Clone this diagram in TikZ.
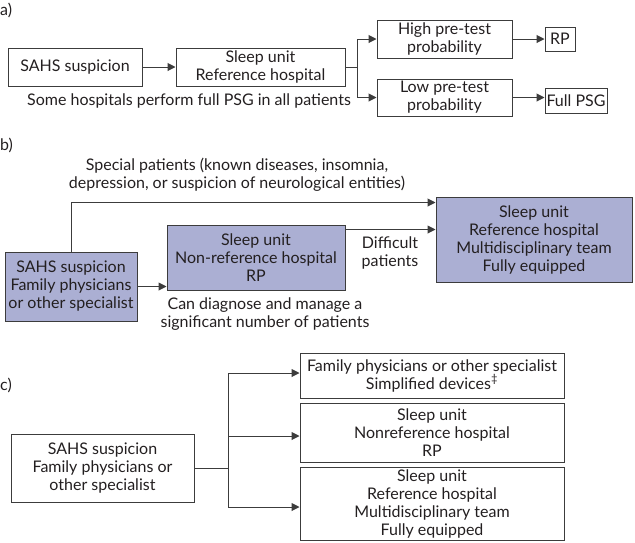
\documentclass[tikz,border=0pt]{standalone}
\usepackage{fontspec}
\setmainfont{Lato}
\usetikzlibrary{arrows.meta}
\definecolor{lav}{RGB}{171,175,211}
\definecolor{ln}{RGB}{60,60,60}
\definecolor{tx}{RGB}{35,31,32}
\begin{document}
\begin{tikzpicture}[x=1pt,y=-1pt,
  every node/.style={text=tx, font=\fontsize{16}{18}\selectfont, align=center, inner sep=0pt},
  box/.style={draw=ln, line width=1pt},
  fbox/.style={box, fill=lav},
  arr/.style={draw=ln, line width=1pt, -{Triangle[length=8pt,width=8pt]}},
  ln/.style={draw=ln, line width=1pt}]
\useasboundingbox (0,0) rectangle (635,542);
% a)
\node[anchor=west] (la) at (0,10) {a)};
\node[box, minimum width=134pt, minimum height=38pt] (a1) at (75,67) {SAHS suspicion};
\node[box, minimum width=169pt, minimum height=38pt] (a2) at (260.5,67) {Sleep unit\\Reference hospital};
\node[box, minimum width=135pt, minimum height=38pt] (a3) at (444.5,39) {High pre-test\\probability};
\node[box, minimum width=135pt, minimum height=37pt] (a4) at (444.5,97.5) {Low pre-test\\probability};
\node[box, minimum width=30pt, minimum height=24pt] (a5) at (560,39) {RP};
\node[box, minimum width=62pt, minimum height=25pt] (a6) at (576,100.5) {Full PSG};
\node (at) at (189,101) {Some hospitals perform full PSG in all patients};
\draw[arr] (a1) -- (a2);
\coordinate (ab) at (357,67);
\draw[ln] (a2.east) -- (ab);
\draw[arr] (ab) |- (a3.west);
\draw[arr] (ab) |- (a4.west);
\draw[arr] (a3) -- (a5);
\draw[arr] (a4.east) -- (a4.east -| a6.west);
% b)
\node[anchor=west] (lb) at (0,145) {b)};
\node[fbox, minimum width=132pt, minimum height=69pt] (b1) at (71,286.5) {SAHS suspicion\\Family physicians\\or other specialist};
\node[fbox, minimum width=178pt, minimum height=65pt] (b2) at (256,257.5) {Sleep unit\\Non-reference hospital\\RP};
\node[fbox, minimum width=196pt, minimum height=85pt] (b3) at (534,239.5) {Sleep unit\\Reference hospital\\Multidisciplinary team\\Fully equipped};
\node (bt1) at (237,175) {Special patients (known diseases, insomnia,\\depression, or suspicion of neurological entities)};
\node (bt2) at (390,252.5) {Difficult\\patients};
\node (bt3) at (265,314) {Can diagnose and manage a\\significant number of patients};
\draw[arr] (b1.east) -- (b1.east -| b2.west);
\draw[arr] ([yshift=-5pt]b2.north east) -- ([yshift=-5pt]b2.north east -| b3.west);
\draw[arr] (b1.north) |- ([yshift=-6pt]b3.north west);
% c)
\node[anchor=west] (lc) at (0,385) {c)};
\node[box, minimum width=183pt, minimum height=68pt] (c1) at (102.5,468) {SAHS suspicion\\Family physicians or\\other specialist};
\node[box, minimum width=264pt, minimum height=45pt] (c2) at (432,375.5) {Family physicians or other specialist\\Simplified devices\textsuperscript{\char"2021}};
\node[box, minimum width=264pt, minimum height=59pt] (c3) at (432,432.5) {Sleep unit\\Nonreference hospital\\RP};
\node[box, minimum width=264pt, minimum height=73pt] (c4) at (432,503.5) {Sleep unit\\Reference hospital\\Multidisciplinary team\\Fully equipped};
\coordinate (cb) at (228,468);
\draw[ln] (c1.east) -- (cb);
\draw[ln] (cb |- 0,373) -- (cb |- 0,507);
\draw[arr] (cb |- 0,373) -- (c2.west |- 0,373);
\draw[arr] (cb |- 0,436) -- (c3.west |- 0,436);
\draw[arr] (cb |- 0,507) -- (c4.west |- 0,507);
\end{tikzpicture}
\end{document}
